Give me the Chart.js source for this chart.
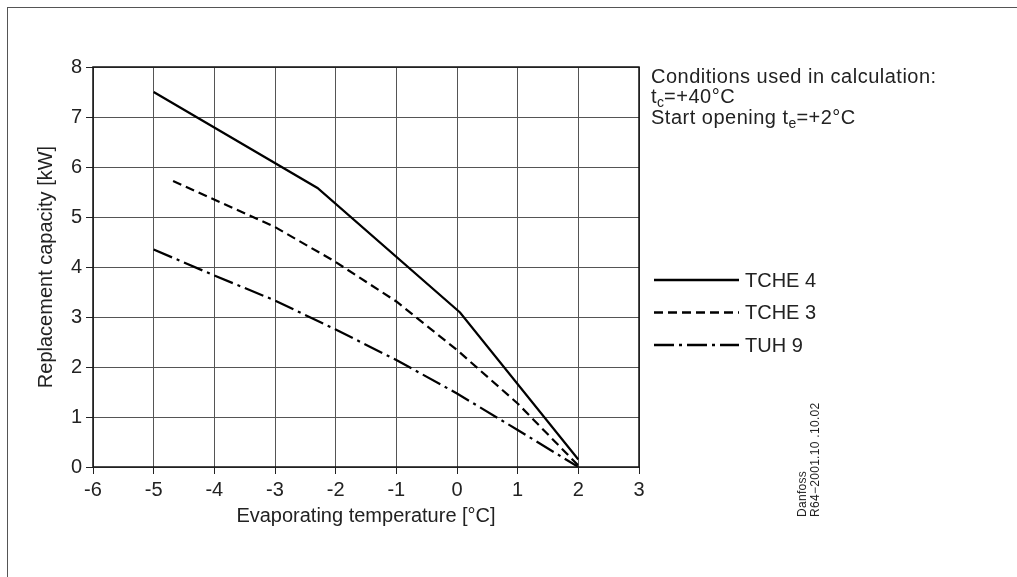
<!DOCTYPE html>
<html>
<head>
<meta charset="utf-8">
<title>Replacement capacity</title>
<script src="https://cdn.jsdelivr.net/npm/chart.js@4.4.0/dist/chart.umd.min.js"></script>
<style>
  html, body { margin: 0; padding: 0; background: #fff; }
  #wrap {
    position: relative; width: 1017px; height: 577px; overflow: hidden;
    font-family: "Liberation Sans", Arial, sans-serif; color: #222;
  }
  #frame {
    position: absolute; left: 7px; top: 7px; width: 1030px; height: 590px;
    border-top: 1px solid #555; border-left: 1px solid #555;
  }
  #chartBox { position: absolute; left: 0; top: 0; width: 1017px; height: 577px; }
  #cond {
    position: absolute; left: 651px; top: 65.5px;
    font-size: 20px; line-height: 20.5px; letter-spacing: 0.5px; white-space: nowrap;
  }
  #cond sub { font-size: 14px; vertical-align: -4px; line-height: 0; letter-spacing: 0; }
  #code {
    position: absolute; left: 796px; top: 517px;
    font-size: 12px; line-height: 13px; letter-spacing: 0.3px; white-space: nowrap;
    transform-origin: 0 0; transform: rotate(-90deg);
  }
</style>
</head>
<body>
<div id="wrap">
  <div id="frame"></div>
  <div id="chartBox"><canvas id="capChart"></canvas></div>
  <div id="cond">
    Conditions used in calculation:<br>
    t<sub>c</sub>=+40°C<br>
    Start opening t<sub>e</sub>=+2°C
  </div>
  <div id="code">Danfoss<br>R64−2001.10 .10.02</div>
</div>
<script>
// --- Datos ---
const seriesNames = ['TCHE 4', 'TCHE 3', 'TUH 9'];

// TCHE 4 (línea continua)
const tche4Temp = [-5, -2.3, 0.05, 2];
const tche4Cap  = [7.5, 5.58, 3.09, 0.15];

// TCHE 3 (línea discontinua)
const tche3Temp = [-4.68, -3, -2, -1, 0, 1, 2];
const tche3Cap  = [5.72, 4.8, 4.1, 3.31, 2.34, 1.27, 0.03];

// TUH 9 (raya-punto)
const tuh9Temp = [-5, -4, -3, -2, -1, 0, 1, 2];
const tuh9Cap  = [4.35, 3.83, 3.33, 2.75, 2.14, 1.47, 0.74, 0];

// Ejes
const xMin = -6, xMax = 3;
const yMin = 0, yMax = 8;

const toPoints = (xs, ys) => xs.map((x, i) => ({ x, y: ys[i] }));

const FONT = '"Liberation Sans", Arial, sans-serif';
const TEXT = '#222';

// Marco del área de trazado + leyenda a la derecha
const frameAndLegend = {
  id: 'frameAndLegend',
  afterDraw(chart) {
    const { ctx, chartArea: a } = chart;
    ctx.save();
    ctx.strokeStyle = '#111';
    ctx.lineWidth = 1.5;
    ctx.setLineDash([]);
    ctx.strokeRect(a.left, a.top, a.right - a.left, a.bottom - a.top);

    ctx.font = `20px ${FONT}`;
    ctx.textBaseline = 'middle';
    ctx.fillStyle = TEXT;
    chart.data.datasets.forEach((ds, i) => {
      const y = 280 + i * 32.5;
      ctx.beginPath();
      ctx.setLineDash(ds.borderDash || []);
      ctx.strokeStyle = ds.borderColor;
      ctx.lineWidth = 2.6;
      ctx.moveTo(654, y);
      ctx.lineTo(739, y);
      ctx.stroke();
      ctx.fillText(ds.label, 745, y + 1);
    });
    ctx.restore();
  }
};

const lineStyle = {
  borderColor: '#000',
  borderWidth: 2.2,
  pointRadius: 0,
  fill: false,
  tension: 0
};

new Chart(document.getElementById('capChart'), {
  type: 'line',
  data: {
    datasets: [
      { ...lineStyle, label: seriesNames[0], data: toPoints(tche4Temp, tche4Cap), borderDash: [] },
      { ...lineStyle, label: seriesNames[1], data: toPoints(tche3Temp, tche3Cap), borderDash: [9, 5] },
      { ...lineStyle, label: seriesNames[2], data: toPoints(tuh9Temp, tuh9Cap), borderDash: [20, 5, 3, 5] }
    ]
  },
  options: {
    responsive: true,
    maintainAspectRatio: false,
    animation: false,
    layout: { padding: { left: 0, top: 67, right: 378, bottom: 0 } },
    plugins: {
      legend: { display: false },
      tooltip: { enabled: false }
    },
    scales: {
      x: {
        type: 'linear',
        min: xMin,
        max: xMax,
        afterFit: (scale) => { scale.height = 110; },
        ticks: {
          stepSize: 1,
          padding: 4,
          color: TEXT,
          font: { family: FONT, size: 20 }
        },
        grid: { color: '#555', lineWidth: 1, tickLength: 7, tickColor: '#222' },
        border: { display: false },
        title: {
          display: true,
          text: 'Evaporating temperature [°C]',
          color: TEXT,
          font: { family: FONT, size: 20 },
          padding: { top: 0, bottom: 49 }
        }
      },
      y: {
        type: 'linear',
        min: yMin,
        max: yMax,
        afterFit: (scale) => { scale.width = 93; },
        ticks: {
          stepSize: 1,
          padding: 4,
          color: TEXT,
          font: { family: FONT, size: 20 }
        },
        grid: { color: '#555', lineWidth: 1, tickLength: 7, tickColor: '#222' },
        border: { display: false },
        title: {
          display: true,
          text: 'Replacement capacity [kW]',
          color: TEXT,
          font: { family: FONT, size: 20 },
          padding: { top: 34, bottom: 0 }
        }
      }
    }
  },
  plugins: [frameAndLegend]
});
</script>
</body>
</html>
